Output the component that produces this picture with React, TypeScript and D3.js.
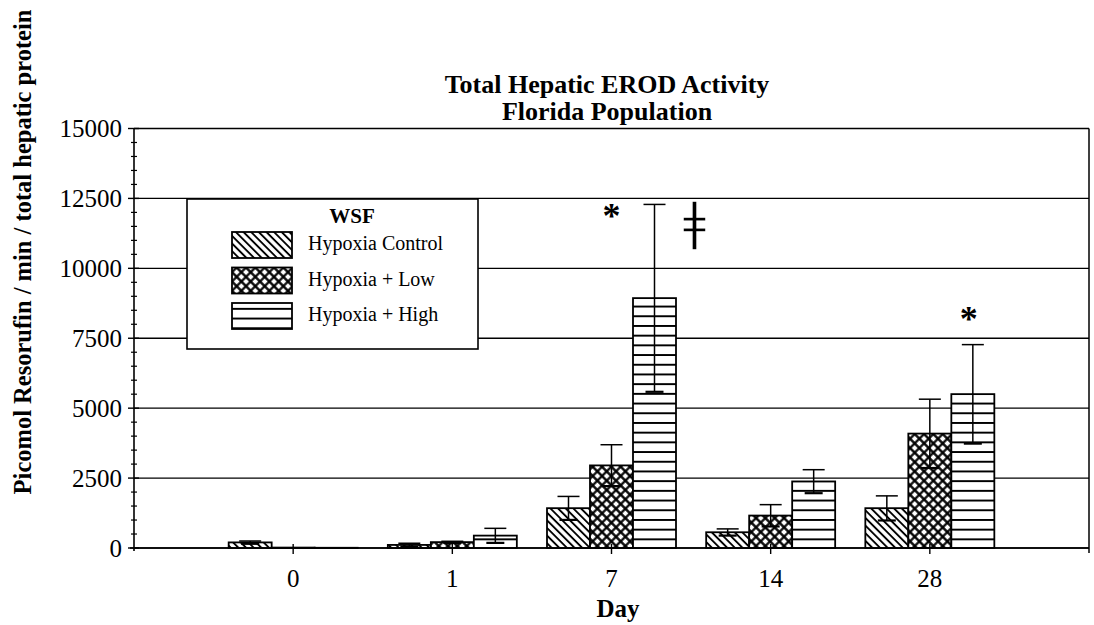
import React from 'react';
import * as d3 from 'd3';

const days = ['0', '1', '7', '14', '28'];
const seriesNames = ['Hypoxia Control', 'Hypoxia + Low', 'Hypoxia + High'];
const controlMean = [200, 110, 1424, 563, 1424];
const controlErr = [50, 60, 420, 120, 440];
const lowMean = [15, 210, 2953, 1160, 4091];
const lowErr = [0, 30, 740, 390, 1230];
const highMean = [8, 443, 8935, 2380, 5502];
const highErr = [0, 260, 3350, 420, 1770];
const yTicks = [0, 2500, 5000, 7500, 10000, 12500, 15000];
const annotationSymbols = ['*', '\u01C2', '*'];
const annotationDays = ['7', '7', '28'];
const annotationSeries = [1, 2, 2];
const annotationValues = [11450, 11050, 7750];

const W = 1094;
const H = 625;
const FONT = '"Liberation Serif", "Times New Roman", serif';

export default function App() {
  const x = d3.scalePoint<string>().domain(days).range([134, 1089]).padding(1);
  const y = d3.scaleLinear().domain([0, 15000]).range([548, 128.5]);
  const inner = d3.scaleBand<number>().domain([0, 1, 2]).range([-64.5, 64.5]);
  const bw = inner.bandwidth();
  const means = [controlMean, lowMean, highMean];
  const errs = [controlErr, lowErr, highErr];
  const fills = ['url(#diag)', 'url(#cross)', 'url(#horiz)'];
  const minor = d3.range(0, 15001, 500).filter((v) => v % 2500 !== 0);
  const x0 = 134;
  const x1 = 1089;
  const annDx = [0, 40, -4];

  return (
    <svg width={W} height={H} style={{ position: 'absolute', left: 0, top: 0, background: '#fff' }} fontFamily={FONT}>
      <defs>
        <pattern id="diag" width={5.4} height={5.4} patternUnits="userSpaceOnUse" patternTransform="rotate(-45)">
          <rect width={5.4} height={5.4} fill="#fff" />
          <line x1={2.7} y1={-1} x2={2.7} y2={7} stroke="#000" strokeWidth={1.9} />
        </pattern>
        <pattern id="cross" width={6.6} height={6.6} patternUnits="userSpaceOnUse" patternTransform="rotate(45)">
          <rect width={6.6} height={6.6} fill="#fff" />
          <path d="M0,3.3H6.6M3.3,0V6.6" stroke="#000" strokeWidth={2.2} />
        </pattern>
        <pattern id="horiz" width={10} height={9.7} patternUnits="userSpaceOnUse" patternTransform="translate(0,1)">
          <rect width={10} height={9.7} fill="#fff" />
          <line x1={-1} y1={4.85} x2={11} y2={4.85} stroke="#000" strokeWidth={2} />
        </pattern>
      </defs>

      {/* gridlines */}
      {yTicks.map((t) => (
        <line key={'g' + t} x1={x0} x2={x1} y1={y(t)} y2={y(t)} stroke="#000" strokeWidth={1.3} />
      ))}
      {/* right border */}
      <line x1={x1} x2={x1} y1={y(15000)} y2={553} stroke="#000" strokeWidth={1.5} />

      {/* bars */}
      {days.map((d, i) => (
        <g key={'grp' + d}>
          {means.map((m, s) => {
            const bx = (x(d) as number) + (inner(s) as number);
            const top = y(m[i]);
            return (
              <rect key={'b' + s} x={bx} y={top} width={bw} height={y(0) - top}
                fill={fills[s]} stroke="#000" strokeWidth={1.8} />
            );
          })}
          {means.map((m, s) => {
            if (errs[s][i] <= 0) return null;
            const cx = (x(d) as number) + (inner(s) as number) + bw / 2;
            const hi = y(m[i] + errs[s][i]);
            const lo = y(Math.max(0, m[i] - errs[s][i]));
            return (
              <g key={'e' + s} stroke="#000" strokeWidth={1.5}>
                <line x1={cx} x2={cx} y1={hi} y2={lo} />
                <line x1={cx - 11} x2={cx + 11} y1={hi} y2={hi} />
                <line x1={cx - 9} x2={cx + 9} y1={lo} y2={lo} strokeWidth={2.2} />
              </g>
            );
          })}
        </g>
      ))}

      {/* axes */}
      <line x1={x0} x2={x0} y1={y(15000)} y2={y(0) + 3} stroke="#000" strokeWidth={1.6} />
      <line x1={x0 - 4} x2={x1} y1={y(0)} y2={y(0)} stroke="#000" strokeWidth={1.6} />
      {yTicks.map((t) => (
        <g key={'yt' + t}>
          <line x1={x0 - 6} x2={x0 + 5} y1={y(t)} y2={y(t)} stroke="#000" strokeWidth={1.4} />
          <text x={122} y={y(t)} dy="0.35em" textAnchor="end" fontSize={25}>{t}</text>
        </g>
      ))}
      {minor.map((t) => (
        <line key={'ym' + t} x1={x0 - 3} x2={x0 + 3} y1={y(t)} y2={y(t)} stroke="#000" strokeWidth={1.2} />
      ))}
      {days.map((d) => (
        <g key={'xt' + d}>
          <line x1={x(d)} x2={x(d)} y1={y(0) - 4} y2={y(0) + 6} stroke="#000" strokeWidth={1.4} />
          <text x={x(d)} y={587} textAnchor="middle" fontSize={25}>{d}</text>
        </g>
      ))}

      {/* annotations */}
      {annotationSymbols.map((sym, k) => {
        const d = annotationDays[k];
        const s = annotationSeries[k];
        const cx = (x(d) as number) + (inner(s) as number) + bw / 2 + annDx[k];
        const isDagger = sym !== '*';
        return (
          <text key={'a' + k} x={cx} y={y(annotationValues[k])} textAnchor="middle"
            fontFamily={isDagger ? '"DejaVu Sans", sans-serif' : FONT}
            stroke={isDagger ? '#fff' : 'none'} strokeWidth={isDagger ? 1.4 : 0}
            fontSize={isDagger ? 52 : 36} fontWeight={isDagger ? 'normal' : 'bold'}>{sym}</text>
        );
      })}

      {/* legend */}
      <g>
        <rect x={187} y={199} width={291} height={150} fill="#fff" stroke="#000" strokeWidth={1.6} />
        <text x={352} y={223} textAnchor="middle" fontSize={21} fontWeight="bold">WSF</text>
        {seriesNames.map((n, s) => (
          <g key={'lg' + s} transform={`translate(232,${232 + s * 35.5})`}>
            <rect width={60} height={26} fill={fills[s]} stroke="#000" strokeWidth={1.8} />
            <text x={76} y={18} fontSize={20}>{n}</text>
          </g>
        ))}
      </g>

      {/* titles */}
      <text x={607} y={93} textAnchor="middle" fontSize={26} fontWeight="bold">Total Hepatic EROD Activity</text>
      <text x={607} y={120} textAnchor="middle" fontSize={26} fontWeight="bold">Florida Population</text>
      <text x={618} y={617} textAnchor="middle" fontSize={25} fontWeight="bold">Day</text>
      <text transform="translate(31,252) rotate(-90)" textAnchor="middle" fontSize={24.5} fontWeight="bold">
        Picomol Resorufin / min / total hepatic protein
      </text>
    </svg>
  );
}
